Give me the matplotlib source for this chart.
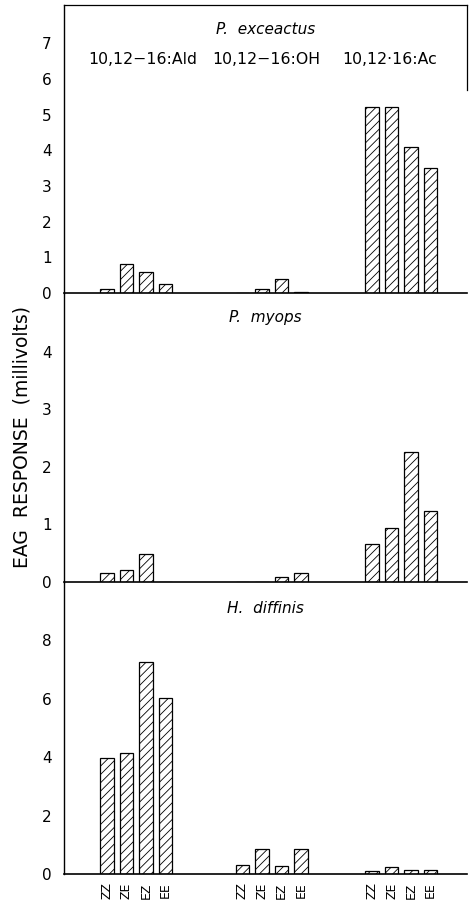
import matplotlib
matplotlib.use("Agg")
import matplotlib.pyplot as plt
import numpy as np

plt.rcParams['font.family'] = ['DejaVu Sans']
plt.rcParams['hatch.linewidth'] = 0.6

isomers = ["ZZ", "ZE", "EZ", "EE"]
compounds = ["10,12\u221216:Ald", "10,12\u221216:OH", "10,12\u00b716:Ac"]
species = ["P.  exceactus", "P.  myops", "H.  diffinis"]

# EAG response (mV) per compound group, isomers ZZ, ZE, EZ, EE
exceactus_ald = [0.10, 0.80, 0.60, 0.24]
exceactus_oh = [0.0, 0.11, 0.40, 0.04]
exceactus_ac = [5.22, 5.21, 4.10, 3.50]

myops_ald = [0.15, 0.20, 0.49, 0.0]
myops_oh = [0.0, 0.0, 0.08, 0.16]
myops_ac = [0.66, 0.94, 2.25, 1.23]

diffinis_ald = [3.97, 4.14, 7.27, 6.03]
diffinis_oh = [0.32, 0.87, 0.27, 0.87]
diffinis_ac = [0.10, 0.23, 0.14, 0.13]

panels = [
    (exceactus_ald, exceactus_oh, exceactus_ac),
    (myops_ald, myops_oh, myops_ac),
    (diffinis_ald, diffinis_oh, diffinis_ac),
]
ylims = [8.07, 5.02, 10.0]
yticks = [list(range(0, 8)), list(range(0, 5)), [0, 2, 4, 6, 8]]

W, H = 469, 902
fig = plt.figure(figsize=(W / 100, H / 100), dpi=100)

left_px, right_px = 64, 467
bounds = [(5, 293), (293, 582), (582, 874)]
group_offsets = [0.0, 6.95, 13.6]
bar_w = 0.68
xlim = (-2.2, 18.47)

axes = []
for i, (top, bot) in enumerate(bounds):
    ax = fig.add_axes([left_px / W, 1 - bot / H, (right_px - left_px) / W, (bot - top) / H])
    axes.append(ax)
    for g, vals in enumerate(panels[i]):
        xs = group_offsets[g] + np.arange(len(isomers))
        ax.bar(xs, vals, width=bar_w, color="white", edgecolor="black",
               linewidth=0.9, hatch="////")
    ax.set_xlim(*xlim)
    ax.set_ylim(0, ylims[i])
    ax.set_yticks(yticks[i])
    ax.tick_params(axis="y", length=0, pad=9, labelsize=11)
    ax.spines["left"].set_linewidth(1.0)
    ax.spines["bottom"].set_linewidth(1.2)
    ax.spines["right"].set_visible(i == 0)
    ax.spines["top"].set_visible(i == 0)
    if i == 0:
        ax.spines["right"].set_bounds(5.7, ylims[0])
        ax.spines["right"].set_linewidth(0.9)
        ax.spines["top"].set_linewidth(0.9)
    ax.patch.set_alpha(0)
    ax.text(0.5, [0.915, 0.915, 0.91][i], species[i], transform=ax.transAxes,
            ha="center", va="center", style="italic", fontsize=11)
    if i < 2:
        ax.set_xticks([])
    else:
        ticks = np.concatenate([group_offsets[g] + np.arange(len(isomers)) for g in range(3)])
        ax.set_xticks(ticks)
        ax.set_xticklabels(isomers * 3, rotation=90, fontsize=9)
        ax.tick_params(axis="x", length=0, pad=6)

# compound labels in top panel
comp_x = [143, 266, 390]
for cx, lab in zip(comp_x, compounds):
    fig.text(cx / W, 1 - 59 / H, lab, ha="center", va="center", fontsize=11.3)

fig.text(22 / W, 1 - 437 / H, "EAG  RESPONSE  (millivolts)", rotation=90,
         ha="center", va="center", fontsize=13.5)

fig.savefig("out.png", dpi=100)
